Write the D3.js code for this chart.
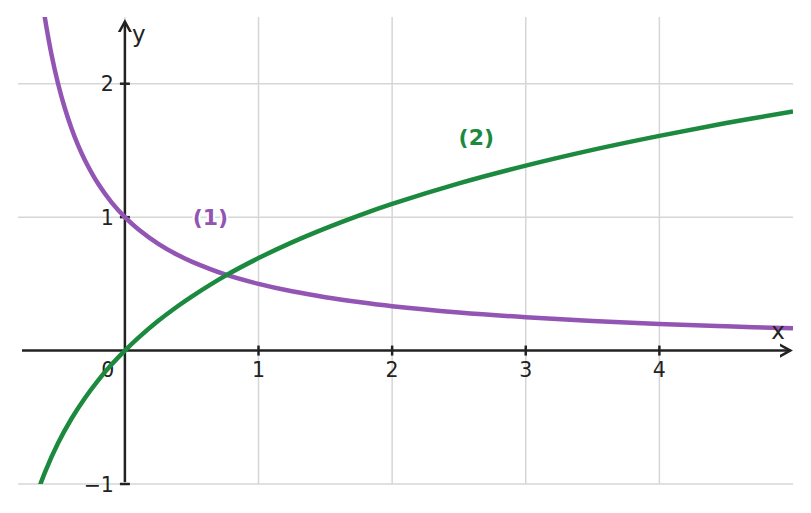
<!DOCTYPE html>
<html>
<head>
<meta charset="utf-8">
<script src="https://cdn.jsdelivr.net/npm/d3@7"></script>
<style>
  html, body { margin: 0; padding: 0; background: #fff; }
  svg { display: block; font-family: "DejaVu Sans", sans-serif; }
</style>
</head>
<body>
<div id="canvas"></div>
<script>
// values
var xTicks = [1, 2, 3, 4];
var yTicks = [-1, 1, 2];
var gridX = [0, 1, 2, 3, 4];
var gridY = [-1, 1, 2];

var curve1X = [-0.63, -0.6, -0.55, -0.5, -0.45, -0.4, -0.35, -0.3, -0.2, -0.1, 0, 0.1, 0.25, 0.4, 0.5, 0.75, 1, 1.25, 1.5, 1.75, 2, 2.5, 3, 3.5, 4, 4.5, 5];
var curve1Y = [2.703, 2.500, 2.222, 2.000, 1.818, 1.667, 1.538, 1.429, 1.250, 1.111, 1.000, 0.909, 0.800, 0.714, 0.667, 0.571, 0.500, 0.444, 0.400, 0.364, 0.333, 0.286, 0.250, 0.222, 0.200, 0.182, 0.167];

var curve2X = [-0.66, -0.6, -0.5, -0.4, -0.3, -0.2, -0.1, 0, 0.1, 0.25, 0.4, 0.5, 0.75, 1, 1.25, 1.5, 1.75, 2, 2.5, 3, 3.5, 4, 4.5, 5];
var curve2Y = [-1.079, -0.916, -0.693, -0.511, -0.357, -0.223, -0.105, 0, 0.095, 0.223, 0.336, 0.405, 0.560, 0.693, 0.811, 0.916, 1.012, 1.099, 1.253, 1.386, 1.504, 1.609, 1.705, 1.792];

var labels = [
  { text: '(1)', x: 0.64, y: 1.0, color: '#9355b4' },
  { text: '(2)', x: 2.63, y: 1.6, color: '#1b8a3e' }
];

var width = 811, height = 513;
var axisColor = '#222';

var x = d3.scaleLinear().domain([-0.8, 5]).range([18, 793]);
var y = d3.scaleLinear().domain([-1, 2.5]).range([484, 17]);

var svg = d3.select('#canvas').append('svg')
  .attr('width', width)
  .attr('height', height);

svg.append('defs').append('clipPath')
  .attr('id', 'plot-clip')
  .append('rect')
  .attr('x', x(-0.8)).attr('y', y(2.5))
  .attr('width', x(5) - x(-0.8))
  .attr('height', y(-1) - y(2.5));

svg.append('defs').append('marker')
  .attr('id', 'arrow')
  .attr('markerUnits', 'userSpaceOnUse')
  .attr('markerWidth', 20).attr('markerHeight', 20)
  .attr('viewBox', '-10 -10 20 20')
  .attr('refX', 0).attr('refY', 0)
  .attr('orient', 'auto')
  .append('path')
  .attr('d', 'M-11,-6 L0,0 L-11,6')
  .attr('fill', 'none')
  .attr('stroke', axisColor)
  .attr('stroke-width', 2.5)
  .attr('stroke-linejoin', 'miter');

// grid
var grid = svg.append('g').attr('stroke', '#d6d6d6').attr('stroke-width', 1.5);
grid.selectAll('.gx').data(gridX).enter().append('line')
  .attr('x1', function (d) { return x(d); })
  .attr('x2', function (d) { return x(d); })
  .attr('y1', y(2.5)).attr('y2', y(-1));
grid.selectAll('.gy').data(gridY).enter().append('line')
  .attr('y1', function (d) { return y(d); })
  .attr('y2', function (d) { return y(d); })
  .attr('x1', x(-0.8)).attr('x2', x(5));

// axes
svg.append('line')
  .attr('x1', x(-0.77)).attr('x2', x(4.98))
  .attr('y1', y(0)).attr('y2', y(0))
  .attr('stroke', axisColor).attr('stroke-width', 2.5)
  .attr('marker-end', 'url(#arrow)');
svg.append('line')
  .attr('x1', x(0)).attr('x2', x(0))
  .attr('y1', y(-0.985)).attr('y2', y(2.465))
  .attr('stroke', axisColor).attr('stroke-width', 2.5)
  .attr('marker-end', 'url(#arrow)');

// ticks
svg.append('g').selectAll('line').data(xTicks).enter().append('line')
  .attr('x1', function (d) { return x(d); })
  .attr('x2', function (d) { return x(d); })
  .attr('y1', y(0) - 5).attr('y2', y(0) + 5)
  .attr('stroke', axisColor).attr('stroke-width', 2.5);
svg.append('g').selectAll('line').data(yTicks).enter().append('line')
  .attr('y1', function (d) { return y(d); })
  .attr('y2', function (d) { return y(d); })
  .attr('x1', x(0) - 5).attr('x2', x(0) + 5)
  .attr('stroke', axisColor).attr('stroke-width', 2.5);

var tickFont = '20.5px';
svg.append('g').selectAll('text').data(xTicks).enter().append('text')
  .attr('x', function (d) { return x(d); })
  .attr('y', y(0) + 26)
  .attr('text-anchor', 'middle')
  .style('font-size', tickFont)
  .attr('fill', axisColor)
  .text(function (d) { return d; });
svg.append('text')
  .attr('x', x(0) - 17).attr('y', y(0) + 26)
  .attr('text-anchor', 'middle')
  .style('font-size', tickFont)
  .attr('fill', axisColor)
  .text('0');
svg.append('g').selectAll('text').data(yTicks).enter().append('text')
  .attr('x', x(0) - 11)
  .attr('y', function (d) { return y(d) + 7.5; })
  .attr('text-anchor', 'end')
  .style('font-size', tickFont)
  .attr('fill', axisColor)
  .text(function (d) { return d < 0 ? '\u2212' + Math.abs(d) : d; });

// curves
var plot = svg.append('g').attr('clip-path', 'url(#plot-clip)');
var line = d3.line()
  .x(function (d) { return x(d[0]); })
  .y(function (d) { return y(d[1]); })
  .curve(d3.curveCatmullRom.alpha(0.5));

plot.append('path')
  .datum(d3.zip(curve1X, curve1Y))
  .attr('d', line)
  .attr('fill', 'none')
  .attr('stroke', '#9355b4')
  .attr('stroke-width', 4.5);
plot.append('path')
  .datum(d3.zip(curve2X, curve2Y))
  .attr('d', line)
  .attr('fill', 'none')
  .attr('stroke', '#1b8a3e')
  .attr('stroke-width', 4.5);

// axis names, drawn over the curves
svg.append('text')
  .attr('x', 778).attr('y', y(0) - 12)
  .attr('text-anchor', 'middle')
  .style('font-size', '23px')
  .attr('fill', axisColor)
  .text('x');
svg.append('text')
  .attr('x', x(0) + 14).attr('y', 42)
  .attr('text-anchor', 'middle')
  .style('font-size', '23px')
  .attr('fill', axisColor)
  .text('y');

// curve labels
svg.append('g').selectAll('text').data(labels).enter().append('text')
  .attr('x', function (d) { return x(d.x); })
  .attr('y', function (d) { return y(d.y) + 8; })
  .attr('text-anchor', 'middle')
  .style('font-size', '22px')
  .attr('font-weight', 'bold')
  .attr('fill', function (d) { return d.color; })
  .attr('stroke', '#fff')
  .attr('stroke-width', 4)
  .attr('paint-order', 'stroke')
  .text(function (d) { return d.text; });
</script>
</body>
</html>
